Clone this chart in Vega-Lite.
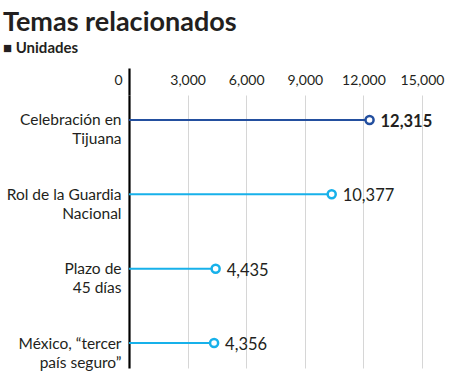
{
  "$schema": "https://vega.github.io/schema/vega-lite/v6.json",
  "width": 293,
  "height": 273,
  "autosize": {"type": "none"},
  "padding": {"left": 129, "top": 95, "right": 28, "bottom": 9},
  "background": "white",
  "title": {
    "text": "Temas relacionados",
    "subtitle": "■ Unidades",
    "anchor": "start",
    "frame": "group",
    "dx": -126,
    "offset": 10,
    "font": "Lato",
    "fontSize": 27,
    "fontWeight": "bold",
    "color": "#231f20",
    "subtitleFont": "Lato",
    "subtitleFontSize": 15,
    "subtitleFontWeight": "bold",
    "subtitleColor": "#231f20",
    "subtitlePadding": 4
  },
  "data": {
    "values": [
      {"tema": "Celebración en Tijuana", "valor": 12315, "destacado": "si"},
      {"tema": "Rol de la Guardia Nacional", "valor": 10377, "destacado": "no"},
      {"tema": "Plazo de 45 días", "valor": 4435, "destacado": "no"},
      {"tema": "México, “tercer país seguro”", "valor": 4356, "destacado": "no"}
    ]
  },
  "encoding": {
    "y": {
      "field": "tema",
      "type": "nominal",
      "sort": null,
      "scale": {"type": "point", "padding": 0.335},
      "axis": {
        "title": null,
        "domain": false,
        "ticks": false,
        "labelPadding": 8,
        "labelFont": "Lato",
        "labelFontSize": 15.5,
        "labelColor": "#231f20",
        "labelLineHeight": 19,
        "labelAlign": "right",
        "labelBaseline": "middle",
        "labelExpr": "datum.label == 'Celebración en Tijuana' ? ['Celebración en', 'Tijuana'] : datum.label == 'Rol de la Guardia Nacional' ? ['Rol de la Guardia', 'Nacional'] : datum.label == 'Plazo de 45 días' ? ['Plazo de', '45 días'] : ['México, “tercer', 'país seguro”']"
      }
    },
    "color": {
      "field": "destacado",
      "type": "nominal",
      "scale": {"domain": ["si", "no"], "range": ["#234f9f", "#17b1ea"]},
      "legend": null
    }
  },
  "layer": [
    {
      "mark": {"type": "rule", "strokeWidth": 2},
      "encoding": {
        "x": {
          "field": "valor",
          "type": "quantitative",
          "scale": {"domain": [0, 15000], "nice": false},
          "axis": {
            "orient": "top",
            "title": null,
            "domain": false,
            "values": [0, 3000, 6000, 9000, 12000, 15000],
            "format": ",d",
            "grid": true,
            "gridColor": {"condition": {"test": "datum.value === 0", "value": "#000000"}, "value": "#d6d6d6"},
            "gridWidth": {"condition": {"test": "datum.value === 0", "value": 2.2}, "value": 1},
            "ticks": true,
            "tickSize": 27,
            "tickColor": "#000000",
            "tickWidth": {"condition": {"test": "datum.value === 0", "value": 2.2}, "value": 0},
            "labelPadding": -16,
            "labelFont": "Lato",
            "labelFontSize": 14,
            "labelColor": "#231f20",
            "labelBaseline": "alphabetic",
            "labelAlign": {"condition": {"test": "datum.value === 0", "value": "right"}, "value": "center"},
            "labelOffset": {"condition": {"test": "datum.value === 0", "value": -7}, "value": 0}
          }
        },
        "x2": {"datum": 0}
      }
    },
    {
      "mark": {"type": "point", "shape": "circle", "filled": false, "fill": "white", "fillOpacity": 1, "size": 65, "strokeWidth": 2.5, "opacity": 1},
      "encoding": {
        "x": {"field": "valor", "type": "quantitative"}
      }
    },
    {
      "mark": {
        "type": "text",
        "align": "left",
        "baseline": "middle",
        "dx": 11,
        "dy": 2,
        "font": "Lato",
        "fontSize": 16.5,
        "color": "#231f20",
        "fontWeight": {"expr": "datum.destacado == 'si' ? 'bold' : 'normal'"}
      },
      "encoding": {
        "x": {"field": "valor", "type": "quantitative"},
        "text": {"field": "valor", "type": "quantitative", "format": ",d"},
        "color": {"value": "#231f20"}
      }
    }
  ],
  "config": {"view": {"stroke": null}}
}
